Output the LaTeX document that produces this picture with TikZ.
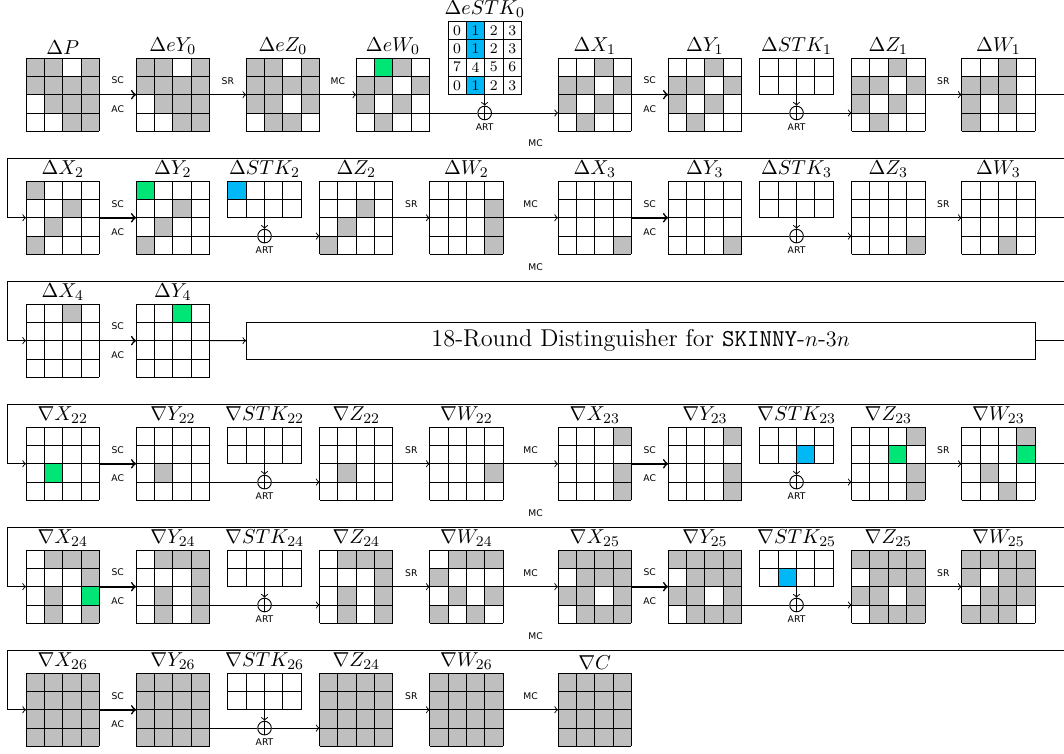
\documentclass[tikz,border=0pt]{standalone}
\usepackage{amsmath}
\usepackage{amssymb}
\usepackage{fontspec}
\usepackage{tikz}
\newfontfamily\opfont{DejaVu Sans}

\colorlet{gry}{gray!50}
\definecolor{grn}{RGB}{0,230,118}
\definecolor{blu}{RGB}{0,184,245}

\tikzset{
  gridbox/.style={minimum width=1.4cm, minimum height=1.4cm, inner sep=0pt, outer sep=0pt, anchor=north west},
  keybox/.style={minimum width=1.4cm, minimum height=0.7cm, inner sep=0pt, outer sep=0pt, anchor=north west},
  lbl/.style={above, inner sep=1.8pt, font=\fontsize{11}{13}\selectfont},
  op/.style={font=\opfont\fontsize{5}{6}\selectfont, inner sep=2pt},
  opa/.style={op, above=3.3pt},
  opb/.style={op, below=3.3pt},
  sac/.style={line width=0.9pt},
  xor/.style={circle, draw, minimum size=0.26cm, inner sep=0pt,
    path picture={\draw (path picture bounding box.north) -- (path picture bounding box.south)
      (path picture bounding box.west) -- (path picture bounding box.east);}},
}

% state: [base colour]{name}{top left}{label}{colour/column/row,...}
\newcommand{\sgrid}[5][white]{%
  \begin{scope}[shift={(#3)}]
    \node[gridbox, fill=#1] (#2) at (0,0) {};
    \node[lbl] (#2-t) at (#2.north) {#4};
    \coordinate (#2-lo) at (4,-3);
    \coordinate (#2-li) at (0,-3);
    \if\relax\detokenize{#5}\relax\else
      \foreach \clr/\cc/\rr in {#5} \fill[\clr] (\cc,-\rr) rectangle ++(1,-1);
    \fi
    \foreach \k in {0,...,4} {\draw (\k,0) -- (\k,-4); \draw (0,-\k) -- (4,-\k);}
  \end{scope}}

% tweakey: {name}{top left}{label}{colour/column/row,...}
\newcommand{\kgrid}[4]{%
  \begin{scope}[shift={(#2)}]
    \node[keybox] (#1) at (0,0) {};
    \node[lbl] (#1-t) at (#1.north) {#3};
    \if\relax\detokenize{#4}\relax\else
      \foreach \clr/\cc/\rr in {#4} \fill[\clr] (\cc,-\rr) rectangle ++(1,-1);
    \fi
    \foreach \k in {0,...,4} \draw (\k,0) -- (\k,-2);
    \foreach \k in {0,1,2} \draw (0,-\k) -- (4,-\k);
  \end{scope}}

\begin{document}
\begin{tikzpicture}[x=0.35cm, y=0.35cm, line width=0.5pt]
  \useasboundingbox (0,0) rectangle (58,-41.1);
  \clip (0,0) rectangle (58,-41.1);

  % row 1
  \sgrid{P}{1.42,-3.16}{$\Delta P$}{gry/0/0,gry/1/0,gry/3/0,gry/0/1,gry/1/1,gry/2/1,gry/3/1,gry/1/2,gry/2/2,gry/3/2,gry/2/3,gry/3/3}
  \sgrid{eY0}{7.42,-3.16}{$\Delta eY_0$}{gry/0/0,gry/1/0,gry/3/0,gry/0/1,gry/1/1,gry/2/1,gry/3/1,gry/1/2,gry/2/2,gry/3/2,gry/2/3,gry/3/3}
  \sgrid{eZ0}{13.42,-3.16}{$\Delta eZ_0$}{gry/0/0,gry/1/0,gry/3/0,gry/0/1,gry/1/1,gry/2/1,gry/3/1,gry/0/2,gry/1/2,gry/3/2,gry/1/3,gry/2/3}
  \sgrid{eW0}{19.42,-3.16}{$\Delta eW_0$}{grn/1/0,gry/2/0,gry/0/1,gry/1/1,gry/3/1,gry/0/2,gry/2/2,gry/1/3}
  \begin{scope}[shift={(24.42,-1.16)}]
    \node[gridbox] (eK0) at (0,0) {};
    \node[lbl] (eK0-t) at (eK0.north) {$\Delta eSTK_0$};
    \foreach \rr in {0,1,3} \fill[blu] (1,-\rr) rectangle ++(1,-1);
    \foreach \k in {0,...,4} {\draw (\k,0) -- (\k,-4); \draw (0,-\k) -- (4,-\k);}
    \foreach \row [count=\rr from 0] in {{0,1,2,3},{0,1,2,3},{7,4,5,6},{0,1,2,3}}
      \foreach \v [count=\cc from 0] in \row
        \node[font=\footnotesize, inner sep=0pt] (n\rr\cc) at (\cc+0.5,-\rr-0.5) {\v};
  \end{scope}
  \sgrid{X1}{30.42,-3.16}{$\Delta X_1$}{gry/2/0,gry/0/1,gry/1/1,gry/3/1,gry/0/2,gry/2/2,gry/1/3}
  \sgrid{Y1}{36.42,-3.16}{$\Delta Y_1$}{gry/2/0,gry/0/1,gry/1/1,gry/3/1,gry/0/2,gry/2/2,gry/1/3}
  \kgrid{K1}{41.42,-3.16}{$\Delta STK_1$}{}
  \sgrid{Z1}{46.42,-3.16}{$\Delta Z_1$}{gry/2/0,gry/0/1,gry/1/1,gry/3/1,gry/0/2,gry/2/2,gry/1/3}
  \sgrid{W1}{52.42,-3.16}{$\Delta W_1$}{gry/2/0,gry/0/1,gry/1/1,gry/2/1,gry/0/2,gry/2/2,gry/0/3}

  % row 2
  \sgrid{X2}{1.42,-9.87}{$\Delta X_2$}{gry/0/0,gry/2/1,gry/1/2,gry/0/3}
  \sgrid{Y2}{7.42,-9.87}{$\Delta Y_2$}{grn/0/0,gry/2/1,gry/1/2,gry/0/3}
  \kgrid{K2}{12.42,-9.87}{$\Delta STK_2$}{blu/0/0}
  \sgrid{Z2}{17.42,-9.87}{$\Delta Z_2$}{gry/2/1,gry/1/2,gry/0/3}
  \sgrid{W2}{23.42,-9.87}{$\Delta W_2$}{gry/3/1,gry/3/2,gry/3/3}
  \sgrid{X3}{30.42,-9.87}{$\Delta X_3$}{gry/3/3}
  \sgrid{Y3}{36.42,-9.87}{$\Delta Y_3$}{gry/3/3}
  \kgrid{K3}{41.42,-9.87}{$\Delta STK_3$}{}
  \sgrid{Z3}{46.42,-9.87}{$\Delta Z_3$}{gry/3/3}
  \sgrid{W3}{52.42,-9.87}{$\Delta W_3$}{gry/2/3}

  % row 3
  \sgrid{X4}{1.42,-16.57}{$\Delta X_4$}{gry/2/0}
  \sgrid{Y4}{7.42,-16.57}{$\Delta Y_4$}{grn/2/0}
  \node[draw, anchor=north west, minimum width=15.05cm, minimum height=0.7cm, inner sep=0pt, outer sep=0pt, font=\fontsize{13.2}{15}\selectfont]
    (dist) at (13.42,-17.57) {18-Round Distinguisher for \texttt{SKINNY}-$n$-$3n$};

  % row 4
  \sgrid{X22}{1.42,-23.28}{$\nabla X_{22}$}{grn/1/2}
  \sgrid{Y22}{7.42,-23.28}{$\nabla Y_{22}$}{gry/1/2}
  \kgrid{K22}{12.42,-23.28}{$\nabla STK_{22}$}{}
  \sgrid{Z22}{17.42,-23.28}{$\nabla Z_{22}$}{gry/1/2}
  \sgrid{W22}{23.42,-23.28}{$\nabla W_{22}$}{gry/3/2}
  \sgrid{X23}{30.42,-23.28}{$\nabla X_{23}$}{gry/3/0,gry/3/2,gry/3/3}
  \sgrid{Y23}{36.42,-23.28}{$\nabla Y_{23}$}{gry/3/0,gry/3/2,gry/3/3}
  \kgrid{K23}{41.42,-23.28}{$\nabla STK_{23}$}{blu/2/1}
  \sgrid{Z23}{46.42,-23.28}{$\nabla Z_{23}$}{gry/3/0,grn/2/1,gry/3/2,gry/3/3}
  \sgrid{W23}{52.42,-23.28}{$\nabla W_{23}$}{gry/3/0,grn/3/1,gry/1/2,gry/2/3}

  % row 5
  \sgrid{X24}{1.42,-29.98}{$\nabla X_{24}$}{gry/1/0,gry/2/0,gry/3/0,gry/3/1,gry/1/2,grn/3/2,gry/1/3,gry/3/3}
  \sgrid{Y24}{7.42,-29.98}{$\nabla Y_{24}$}{gry/1/0,gry/2/0,gry/3/0,gry/3/1,gry/1/2,gry/3/2,gry/1/3,gry/3/3}
  \kgrid{K24}{12.42,-29.98}{$\nabla STK_{24}$}{}
  \sgrid{Z24}{17.42,-29.98}{$\nabla Z_{24}$}{gry/1/0,gry/2/0,gry/3/0,gry/3/1,gry/1/2,gry/3/2,gry/1/3,gry/3/3}
  \sgrid{W24}{23.42,-29.98}{$\nabla W_{24}$}{gry/1/0,gry/2/0,gry/3/0,gry/0/1,gry/1/2,gry/3/2,gry/0/3,gry/2/3}
  \sgrid[gry]{X25}{30.42,-29.98}{$\nabla X_{25}$}{white/0/1,white/2/2,white/0/3}
  \sgrid[gry]{Y25}{36.42,-29.98}{$\nabla Y_{25}$}{white/0/1,white/2/2,white/0/3}
  \kgrid{K25}{41.42,-29.98}{$\nabla STK_{25}$}{blu/1/1}
  \sgrid[gry]{Z25}{46.42,-29.98}{$\nabla Z_{25}$}{white/0/1,white/2/2,white/0/3}
  \sgrid[gry]{W25}{52.42,-29.98}{$\nabla W_{25}$}{white/1/1,white/0/2,white/3/3}

  % row 6
  \sgrid[gry]{X26}{1.42,-36.69}{$\nabla X_{26}$}{}
  \sgrid[gry]{Y26}{7.42,-36.69}{$\nabla Y_{26}$}{}
  \kgrid{K26}{12.42,-36.69}{$\nabla STK_{26}$}{}
  \sgrid[gry]{Z26}{17.42,-36.69}{$\nabla Z_{24}$}{}
  \sgrid[gry]{W26}{23.42,-36.69}{$\nabla W_{26}$}{}
  \sgrid[gry]{C}{30.42,-36.69}{$\nabla C$}{}

  % first round
  \draw[->, sac] (P) -- node[opa] (P-sc) {SC} node[opb] (P-ac) {AC} (eY0);
  \draw[->] (eY0) -- node[opa] (eY0-sr) {SR} (eZ0);
  \draw[->] (eZ0) -- node[opa] (eZ0-mc) {MC} (eW0);
  \node[xor] (eK0-a) at (eK0 |- eW0-lo) {};
  \draw[->] (eK0) -- (eK0-a);
  \draw (eW0-lo) -- (eK0-a);
  \draw[->] (eK0-a) -- (X1-li);
  \node[op, below=0pt, inner sep=1.5pt] (eK0-r) at (eK0-a.south) {ART};

  % rounds with tweakey
  \foreach \x/\y/\k/\z/\w in {X1/Y1/K1/Z1/W1, X2/Y2/K2/Z2/W2, X3/Y3/K3/Z3/W3,
      X22/Y22/K22/Z22/W22, X23/Y23/K23/Z23/W23, X24/Y24/K24/Z24/W24,
      X25/Y25/K25/Z25/W25, X26/Y26/K26/Z26/W26} {
    \draw[->, sac] (\x) -- node[opa] (\x-sc) {SC} node[opb] (\x-ac) {AC} (\y);
    \node[xor] (\k-a) at (\k |- \y-lo) {};
    \draw[->] (\k) -- (\k-a);
    \draw (\y-lo) -- (\k-a);
    \draw[->] (\k-a) -- (\z-li);
    \node[op, below=0pt, inner sep=1.5pt] (\k-r) at (\k-a.south) {ART};
    \draw[->] (\z) -- node[opa] (\z-sr) {SR} (\w);
  }

  % MC inside a row
  \draw[->] (W2) -- node[opa] (W2-mc) {MC} (X3);
  \draw[->] (W22) -- node[opa] (W22-mc) {MC} (X23);
  \draw[->] (W24) -- node[opa] (W24-mc) {MC} (X25);
  \draw[->] (W26) -- node[opa] (W26-mc) {MC} (C);
  \node[op] (m1) at (29.2,-7.83) {MC};
  \node[op] (m2) at (29.2,-14.54) {MC};
  \node[op] (m4) at (29.2,-27.95) {MC};
  \node[op] (m5) at (29.2,-34.65) {MC};

  % distinguisher row
  \draw[->, sac] (X4) -- node[opa] (X4-sc) {SC} node[opb] (X4-ac) {AC} (Y4);
  \draw[->] (Y4) -- (dist);

  % wrap to the next row
  \draw[->] (W1.east) -- ++(3,0) |- (0.42,-8.62) |- (X2);
  \draw[->] (W3.east) -- ++(3,0) |- (0.42,-15.32) |- (X4);
  \draw[->] (dist.east) -- ++(3,0) |- (0.42,-22.03) |- (X22);
  \draw[->] (W23.east) -- ++(3,0) |- (0.42,-28.73) |- (X24);
  \draw[->] (W25.east) -- ++(3,0) |- (0.42,-35.44) |- (X26);
\end{tikzpicture}
\end{document}
